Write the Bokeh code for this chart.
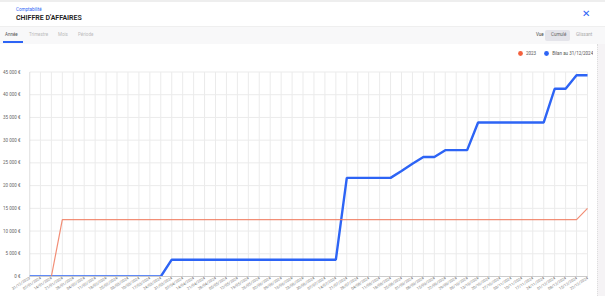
from bokeh.plotting import figure
from bokeh.models import Div, Legend, LegendItem, FixedTicker
from bokeh.layouts import column, row
from bokeh.embed import file_html
from bokeh.resources import INLINE

# ---------------- data ----------------
dates = [
    "31/12/2023", "07/01/2024", "14/01/2024", "21/01/2024", "28/01/2024",
    "04/02/2024", "11/02/2024", "18/02/2024", "25/02/2024",
    "03/03/2024", "10/03/2024", "17/03/2024", "24/03/2024", "31/03/2024",
    "07/04/2024", "14/04/2024", "21/04/2024", "28/04/2024",
    "05/05/2024", "12/05/2024", "19/05/2024", "26/05/2024",
    "02/06/2024", "09/06/2024", "16/06/2024", "23/06/2024", "30/06/2024",
    "07/07/2024", "14/07/2024", "21/07/2024", "28/07/2024",
    "04/08/2024", "11/08/2024", "18/08/2024", "25/08/2024",
    "01/09/2024", "08/09/2024", "15/09/2024", "22/09/2024", "29/09/2024",
    "06/10/2024", "13/10/2024", "20/10/2024", "27/10/2024",
    "03/11/2024", "10/11/2024", "17/11/2024", "24/11/2024",
    "01/12/2024", "08/12/2024", "15/12/2024", "22/12/2024",
]

serie_2023 = [
    0, 0, 0,
    12500, 12500, 12500, 12500, 12500, 12500, 12500, 12500, 12500, 12500,
    12500, 12500, 12500, 12500, 12500, 12500, 12500, 12500, 12500, 12500,
    12500, 12500, 12500, 12500, 12500, 12500, 12500, 12500, 12500, 12500,
    12500, 12500, 12500, 12500, 12500, 12500, 12500, 12500, 12500, 12500,
    12500, 12500, 12500, 12500, 12500, 12500, 12500, 12500,
    15000,
]

serie_bilan_2024 = [
    0, 0, 0, 0, 0, 0, 0, 0, 0, 0, 0, 0, 0,
    3700, 3700, 3700, 3700, 3700, 3700, 3700, 3700,
    3700, 3700, 3700, 3700, 3700, 3700, 3700, 3700,
    21700, 21700, 21700, 21700, 21700,
    23200, 24800,
    26300, 26300,
    27800, 27800, 27800,
    33900, 33900, 33900, 33900, 33900, 33900, 33900,
    41300, 41300,
    44300, 44300,
]

y_ticks = [0, 5000, 10000, 15000, 20000, 25000, 30000, 35000, 40000, 45000]
y_labels = ["0 €", "5 000 €", "10 000 €", "15 000 €", "20 000 €",
            "25 000 €", "30 000 €", "35 000 €", "40 000 €", "45 000 €"]

series_names = ["2023", "Bilan au 31/12/2024"]

# ---------------- styles ----------------
BLUE = "#2d64f5"
ORANGE = "#f4603c"
FONT = "Roboto"
GRID = "#ebebeb"

x = list(range(len(dates)))
x_last = x[-1]

# The frame reaches above the 45 000 € line (legend inside it) and a few
# pixels right of the last week (room for the legend text).
FIG_W, FIG_H = 597, 252
LEFT, RIGHT, BOTTOM = 29, 4, 20
FRAME_W = FIG_W - LEFT - RIGHT
FRAME_H = FIG_H - BOTTOM
TOP_GAP = 27.5          # px between frame top and the 45 000 € line
RIGHT_GAP = 6.0         # px between last week and frame right edge
y_top = y_ticks[-1] * FRAME_H / (FRAME_H - TOP_GAP)
x_end = x_last * FRAME_W / (FRAME_W - RIGHT_GAP)

p = figure(width=FIG_W, height=FIG_H, output_backend="svg", toolbar_location=None,
           x_range=(0, x_end), y_range=(y_ticks[0], y_top),
           min_border_left=LEFT, min_border_right=RIGHT, min_border_top=0,
           min_border_bottom=BOTTOM)
p.outline_line_color = None
p.background_fill_color = "white"
p.border_fill_color = "white"

p.xaxis.ticker = FixedTicker(ticks=x)
p.xaxis.bounds = (0, x_last)
p.xaxis.major_label_overrides = {i: d for i, d in enumerate(dates)}
p.xaxis.major_label_orientation = 0.58
p.xaxis.major_label_text_font = FONT
p.xaxis.major_label_text_font_size = "3.9px"
p.xaxis.major_label_text_color = "#777777"
p.xaxis.major_label_standoff = 0
p.xaxis.major_tick_out = 1
p.xaxis.major_tick_in = 0
p.xaxis.major_tick_line_color = "#cccccc"
p.xaxis.minor_tick_line_color = None
p.xaxis.axis_line_color = "#cccccc"

p.yaxis.ticker = FixedTicker(ticks=y_ticks)
p.yaxis.major_label_overrides = {v: l for v, l in zip(y_ticks, y_labels)}
p.yaxis.major_label_text_font = FONT
p.yaxis.major_label_text_font_size = "4.5px"
p.yaxis.major_label_text_color = "#666666"
p.yaxis.major_label_standoff = 3
p.yaxis.major_tick_line_color = None
p.yaxis.minor_tick_line_color = None
p.yaxis.axis_line_color = None

p.xgrid.grid_line_color = None
p.ygrid.grid_line_color = None

# grid limited to the 0 .. 45 000 x first..last week band
p.segment(x0=x, y0=[y_ticks[0]] * len(x), x1=x, y1=[y_ticks[-1]] * len(x),
          line_color=GRID, line_width=1)
p.segment(x0=[x[0]] * len(y_ticks), y0=y_ticks, x1=[x_last] * len(y_ticks), y1=y_ticks,
          line_color=GRID, line_width=1)
# dotted left axis line
p.segment(x0=[0], y0=[y_ticks[0]], x1=[0], y1=[y_ticks[-1]],
          line_color="#bbbbbb", line_width=1.5, line_dash="1 1")

r_blue = p.line(x, serie_bilan_2024, line_color=BLUE, line_width=2.4)
r_orange = p.line(x, serie_2023, line_color="#f07a5e", line_width=1.2, line_alpha=0.85)

# legend markers (circles) tied to the series
d_orange = p.scatter(x, serie_2023, marker="circle", size=0, fill_color=ORANGE, line_color=None)
d_blue = p.scatter(x, serie_bilan_2024, marker="circle", size=0, fill_color=BLUE, line_color=None)

legend = Legend(items=[LegendItem(label=series_names[0], renderers=[d_orange]),
                       LegendItem(label=series_names[1], renderers=[d_blue])],
                orientation="horizontal", location=(485, FRAME_H - 15.3),
                glyph_width=12, glyph_height=12, label_height=12, label_width=0,
                label_standoff=0, spacing=4, padding=0, margin=0,
                label_text_font=FONT, label_text_font_size="4.5px",
                label_text_color="#555555",
                border_line_alpha=0, background_fill_alpha=0)
p.add_layout(legend, "center")

header_html = f"""
<div style="position:relative;width:605px;height:44px;background:#ffffff;font-family:{FONT};overflow:hidden">
  <div style="position:absolute;left:0;top:0;width:605px;height:2px;background:#eeeeee"></div>
  <div style="position:absolute;left:16px;top:7px;font-size:4.5px;color:{BLUE}">Comptabilité</div>
  <div style="position:absolute;left:16px;top:12.5px;font-size:7px;font-weight:600;color:#222">CHIFFRE D'AFFAIRES</div>
  <div style="position:absolute;left:582px;top:7px;font-size:10px;font-family:'DejaVu Sans';color:{BLUE};font-weight:bold">✕</div>
  <div style="position:absolute;left:0;top:26px;width:605px;height:18px;background:#f8f8f9;border-top:1px solid #efefef"></div>
  <div style="position:absolute;left:5px;top:32px;font-size:4.5px;color:#555">Année</div>
  <div style="position:absolute;left:3px;top:41px;width:20px;height:1.5px;background:{BLUE}"></div>
  <div style="position:absolute;left:29px;top:32px;font-size:4.5px;color:#bbb">Trimestre</div>
  <div style="position:absolute;left:58px;top:32px;font-size:4.5px;color:#bbb">Mois</div>
  <div style="position:absolute;left:78px;top:32px;font-size:4.5px;color:#bbb">Période</div>
  <div style="position:absolute;left:536px;top:32px;font-size:4.5px;color:#444">Vue</div>
  <div style="position:absolute;left:545px;top:30px;width:25px;height:11px;background:#e4e4ea;border-radius:2px"></div>
  <div style="position:absolute;left:551px;top:32px;font-size:4.5px;color:#666">Cumulé</div>
  <div style="position:absolute;left:576px;top:32px;font-size:4.5px;color:#aaa">Glissant</div>
</div>
"""
header = Div(text=header_html, width=605, height=44, margin=0)

strip = Div(text='<div style="width:8px;height:252px;background:#f5f3f5;border-left:1px dotted #dddddd"></div>',
            width=8, height=252, margin=0)

layout = column(header, row(p, strip, spacing=0), spacing=0)

open("out.html", "w").write(file_html(layout, INLINE))
